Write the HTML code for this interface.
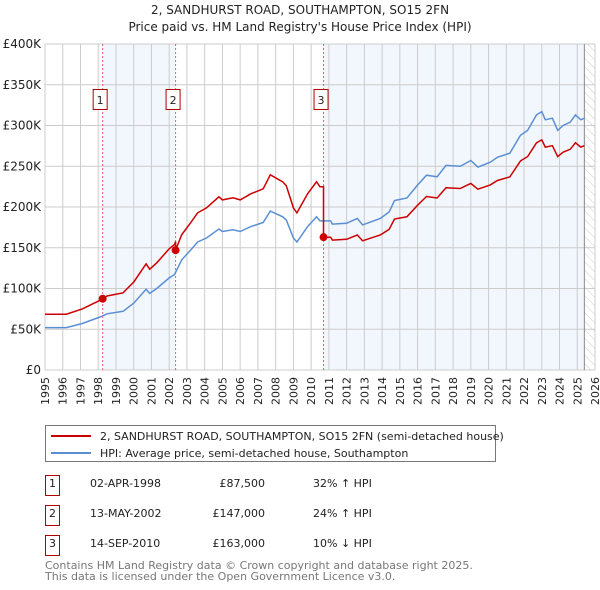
<!DOCTYPE html>
<html><head><meta charset="utf-8"><style>
body{margin:0;background:#fff;font-family:"DejaVu Sans","Liberation Sans",sans-serif;}
#wrap{position:relative;width:600px;height:590px;overflow:hidden;}
</style></head><body>
<div id="wrap">
<svg id="chart" width="600" height="590" xmlns="http://www.w3.org/2000/svg" font-family="DejaVu Sans, Liberation Sans, sans-serif">
<defs><pattern id="hatch" width="6" height="6" patternUnits="userSpaceOnUse" patternTransform="rotate(-45)"><line x1="0" y1="0" x2="0" y2="6" stroke="#ccc" stroke-width="1"/></pattern></defs>
<text x="300" y="14" text-anchor="middle" font-size="12" fill="#222">2, SANDHURST ROAD, SOUTHAMPTON, SO15 2FN</text>
<text x="300" y="31" text-anchor="middle" font-size="12" fill="#222">Price paid vs. HM Land Registry's House Price Index (HPI)</text>
<g id="plot"></g>
<g>
<rect x="45.5" y="425.5" width="450" height="36" fill="#fff" stroke="#777"/>
<line x1="51" y1="436" x2="91" y2="436" stroke="#cc0000" stroke-width="2"/>
<text x="100" y="440" font-size="11" fill="#222">2, SANDHURST ROAD, SOUTHAMPTON, SO15 2FN (semi-detached house)</text>
<line x1="51" y1="453" x2="91" y2="453" stroke="#5b8fd4" stroke-width="2"/>
<text x="100" y="457" font-size="11" fill="#222">HPI: Average price, semi-detached house, Southampton</text>
</g>
<g id="table" font-size="11" fill="#222"></g>
<text x="45" y="569" font-size="11" fill="#777">Contains HM Land Registry data © Crown copyright and database right 2025.</text>
<text x="45" y="580" font-size="11" fill="#777">This data is licensed under the Open Government Licence v3.0.</text>
</svg>
</div>
<script>
const hpiYears=[1995,1996.2,1997.1,1998.1,1998.5,1999.4,2000,2000.7,2000.9,2001.3,2002,2002.3,2002.7,2003.2,2003.6,2004.1,2004.8,2005,2005.6,2006,2006.6,2007.3,2007.7,2008.4,2008.6,2009,2009.2,2009.8,2010.3,2010.5,2011.1,2011.2,2012,2012.6,2012.9,2013.9,2014.4,2014.7,2015.4,2016,2016.5,2017.1,2017.6,2018.4,2019,2019.4,2020.1,2020.5,2021.2,2021.8,2022.2,2022.7,2023,2023.2,2023.6,2023.9,2024.2,2024.6,2024.9,2025.2,2025.4];
const hpiValues=[52,52,57,65,69,72,82,99,94,100,113,117,135,147,157,162,173,170,172,170,176,181,195,188,184,162,157,176,188,183,183,179,180,186,178,186,194,208,211,227,239,237,251,250,257,249,255,261,266,288,294,313,317,307,309,294,300,304,313,307,309];
const saleYears=[1998.25,2002.36,2010.7];
const salePrices=[87.5,147,163];
const saleLabels=["1","2","3"];
const saleDates=["02-APR-1998","13-MAY-2002","14-SEP-2010"];
const salePriceText=["£87,500","£147,000","£163,000"];
const saleDiffs=["32% ↑ HPI","24% ↑ HPI","10% ↓ HPI"];
const yTicks=[0,50,100,150,200,250,300,350,400];
const yTickLabels=["£0","£50K","£100K","£150K","£200K","£250K","£300K","£350K","£400K"];
const xTicks=[];for(let y=1995;y<=2026;y++)xTicks.push(y);

const X0=45,X1=595,Y0=370,Y1=44;
const xs=t=>X0+(t-1995)/(2026-1995)*(X1-X0);
const ys=v=>Y0-v/400*(Y0-Y1);
const NS="http://www.w3.org/2000/svg";
function mk(tag,attrs,parent,text){const e=document.createElementNS(NS,tag);for(const k in attrs)e.setAttribute(k,attrs[k]);if(text!=null)e.textContent=text;parent.appendChild(e);return e;}
const plot=document.getElementById('plot');
function hpiAt(t){for(let i=0;i<hpiYears.length-1;i++){if(t<=hpiYears[i+1]){const f=(t-hpiYears[i])/(hpiYears[i+1]-hpiYears[i]);return hpiValues[i]+f*(hpiValues[i+1]-hpiValues[i]);}}return hpiValues[hpiValues.length-1];}
let r=mk('rect',{x:xs(saleYears[0]),y:Y1,width:xs(saleYears[1])-xs(saleYears[0]),height:Y0-Y1,fill:'#eef3fc',opacity:0.75},plot);

const endT=hpiYears[hpiYears.length-1];
r=mk('rect',{x:xs(saleYears[2]),y:Y1,width:xs(endT)-xs(saleYears[2]),height:Y0-Y1,fill:'#eef3fc',opacity:0.75},plot);

r=mk('rect',{x:xs(endT),y:Y1,width:X1-xs(endT),height:Y0-Y1,fill:'url(#hatch)'},plot);

xTicks.forEach(t=>{const l=mk('line',{x1:xs(t),x2:xs(t),y1:Y1,y2:Y0,stroke:'#ccc','stroke-width':1},plot);

const tx=mk('text',{x:0,y:0,'font-size':11,fill:'#222','text-anchor':'end',transform:`translate(${xs(t)+4},377) rotate(-90)`},plot,String(t));
});
yTicks.forEach((v,i)=>{const l=mk('line',{x1:X0,x2:X1,y1:ys(v),y2:ys(v),stroke:'#ccc','stroke-width':1},plot);

const tx=mk('text',{x:X0-4,y:ys(v)+4,'font-size':12,fill:'#222','text-anchor':'end'},plot,yTickLabels[i]);
});
let ln=mk('line',{x1:xs(endT),x2:xs(endT),y1:Y1,y2:Y0,stroke:'#888','stroke-width':1},plot);

saleYears.forEach((t,i)=>{const l=mk('line',{x1:xs(t),x2:xs(t),y1:Y1,y2:Y0,stroke:'#e06070','stroke-width':1,'stroke-dasharray':'2,2'},plot);

const g=mk('g',{},plot);
mk('rect',{x:xs(t)-9.5,y:89.5,width:14,height:20,fill:'#fff',stroke:'#b00000'},g);
mk('text',{x:xs(t)-2.5,y:104,'font-size':11,fill:'#222','text-anchor':'middle'},g,saleLabels[i]);});
let d=hpiYears.map((t,i)=>(i?'L':'M')+xs(t).toFixed(1)+','+ys(hpiValues[i]).toFixed(1)).join('');
let p=mk('path',{d:d,fill:'none',stroke:'#5b8fd4','stroke-width':1.5},plot);

const ratios=saleYears.map((t,i)=>salePrices[i]/hpiAt(t));
function seg(i){for(let k=saleYears.length-1;k>=0;k--)if(i>=saleYears[k])return k;return 0;}
let pts=[];
const allT=hpiYears.concat(saleYears).sort((a,b)=>a-b);
allT.forEach(t=>{const k=seg(t);if(saleYears.includes(t)&&k>0){pts.push([t,hpiAt(t)*ratios[k-1]]);}pts.push([t,hpiAt(t)*ratios[k]]);});
d=pts.map((q,i)=>(i?'L':'M')+xs(q[0]).toFixed(1)+','+ys(q[1]).toFixed(1)).join('');
p=mk('path',{d:d,fill:'none',stroke:'#cc0000','stroke-width':1.5},plot);

saleYears.forEach((t,i)=>{const c=mk('circle',{cx:xs(t),cy:ys(salePrices[i]),r:4,fill:'#cc0000'},plot);
});
const tb=document.getElementById('table');
saleLabels.forEach((s,i)=>{const y=483+i*30;const g=mk('g',{},tb);

mk('rect',{x:45.5,y:y-7.5,width:14,height:20,fill:'#fff',stroke:'#b00000'},g);
mk('text',{x:52.5,y:y+4,'text-anchor':'middle'},g,s);
mk('text',{x:90,y:y+4},g,saleDates[i]);
mk('text',{x:265,y:y+4,'text-anchor':'end'},g,salePriceText[i]);
mk('text',{x:313,y:y+4},g,saleDiffs[i]);});
</script>
</body></html>
